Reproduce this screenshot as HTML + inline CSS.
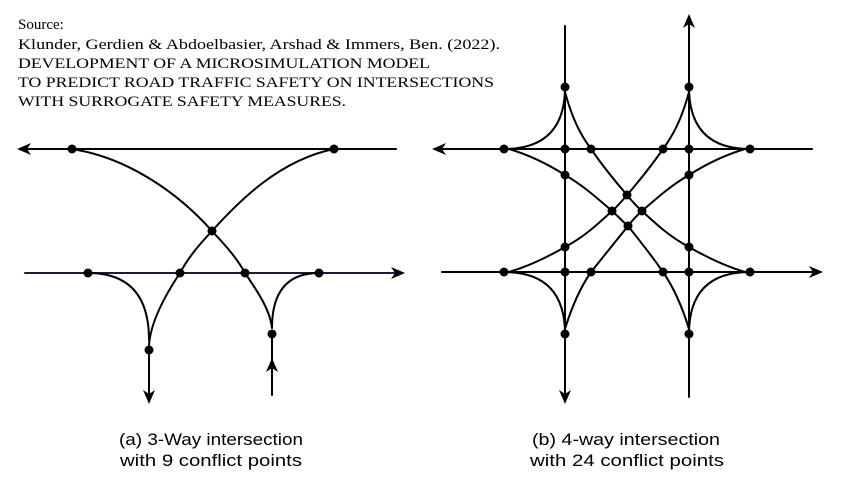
<!DOCTYPE html>
<html><head><meta charset="utf-8"><style>
html,body{margin:0;padding:0;background:#fff;}
svg{display:block;}
</style></head><body>
<svg width="850" height="486" viewBox="0 0 850 486" xmlns="http://www.w3.org/2000/svg">
<g font-family="'Liberation Serif', serif" font-size="15" fill="#000">
<text x="18" y="29">Source:</text>
<text x="18" y="49" textLength="482" lengthAdjust="spacingAndGlyphs">Klunder, Gerdien &amp; Abdoelbasier, Arshad &amp; Immers, Ben. (2022).</text>
<text x="18" y="68" textLength="412" lengthAdjust="spacingAndGlyphs">DEVELOPMENT OF A MICROSIMULATION MODEL</text>
<text x="18" y="87" textLength="476" lengthAdjust="spacingAndGlyphs">TO PREDICT ROAD TRAFFIC SAFETY ON INTERSECTIONS</text>
<text x="18" y="106" textLength="328" lengthAdjust="spacingAndGlyphs">WITH SURROGATE SAFETY MEASURES.</text>
</g>
<g font-family="'Liberation Sans', sans-serif" font-size="17" fill="#000" text-anchor="middle">
<text x="211" y="445" textLength="184" lengthAdjust="spacingAndGlyphs">(a) 3-Way intersection</text>
<text x="211" y="466" textLength="182" lengthAdjust="spacingAndGlyphs">with 9 conflict points</text>
<text x="626" y="445" textLength="188" lengthAdjust="spacingAndGlyphs">(b) 4-way intersection</text>
<text x="627" y="466" textLength="194" lengthAdjust="spacingAndGlyphs">with 24 conflict points</text>
</g>
<g fill="none" stroke="#000" stroke-width="2" stroke-linejoin="round" stroke-linecap="round">
<!-- left diagram -->
<line x1="22" y1="149" x2="396" y2="149"/>
<line x1="25" y1="273" x2="400" y2="273" stroke="#1a1f3a"/>
<line x1="149" y1="350" x2="149" y2="398"/>
<line x1="272" y1="334" x2="272" y2="395"/>
<path d="M72,149 C130,158 180,195 212,231 C228,248 238,260 245,273 C258,292 270,310 272,328"/>
<path d="M334,149 C280,160 240,200 212,231 C198,246 188,258 180,273 C162,300 150,325 149,346"/>
<path d="M88,273 Q149,273 149,340"/>
<path d="M319,273 Q272,273 272,328"/>
<!-- right diagram -->
<line x1="437" y1="149" x2="812" y2="149"/>
<line x1="442" y1="272" x2="818" y2="272"/>
<line x1="565" y1="26" x2="565" y2="398"/>
<line x1="689" y1="20" x2="689" y2="397"/>
<path d="M565,87 Q565,149 504,149"/>
<path d="M689,87 Q689,149 750,149"/>
<path d="M565,334 Q565,272 504,272"/>
<path d="M689,334 Q689,272 750,272"/>
<path d="M565,92 C572,118 580,134 591,149 C602,165 614,180 627,195 C632,201 636,206 642,211 C656,224 670,237 689,247 C708,258 728,267 745,272"/>
<path d="M689,92 C682,118 674,134 663,149 C652,165 640,180 627,195 C622,201 618,206 612,211 C598,224 584,237 565,247 C546,258 526,267 509,272"/>
<path d="M509,149 C526,154 546,163 565,175 C584,186 598,199 612,211 C618,216 622,221 628,226 C640,241 652,256 663,272 C674,288 682,306 689,329"/>
<path d="M745,149 C728,154 708,163 689,175 C670,186 656,199 642,211 C636,216 632,221 628,226 C616,241 604,256 591,272 C580,288 572,306 565,329"/>
</g>
<g fill="#000">
<!-- arrowheads -->
<path d="M17,149 L31,143 L27,149 L31,155 Z"/>
<path d="M405,273 L391,267 L395,273 L391,279 Z"/>
<path d="M149,404 L143,390 L149,394 L155,390 Z"/>
<path d="M272,358 L266,372 L272,368 L278,372 Z"/>
<path d="M432,149 L446,143 L442,149 L446,155 Z"/>
<path d="M823,272 L809,266 L813,272 L809,278 Z"/>
<path d="M565,404 L559,390 L565,394 L571,390 Z"/>
<path d="M689,14 L683,28 L689,24 L695,28 Z"/>
<!-- left dots -->
<circle cx="72" cy="149" r="4.5"/><circle cx="334" cy="149" r="4.5"/>
<circle cx="212" cy="231" r="4.5"/>
<circle cx="88" cy="273" r="4.5"/><circle cx="180" cy="273" r="4.5"/>
<circle cx="245" cy="273" r="4.5"/><circle cx="319" cy="273" r="4.5"/>
<circle cx="149" cy="350" r="4.5"/><circle cx="272" cy="334" r="4.5"/>
<!-- right dots -->
<circle cx="565" cy="87" r="4.5"/><circle cx="689" cy="87" r="4.5"/>
<circle cx="565" cy="334" r="4.5"/><circle cx="689" cy="334" r="4.5"/>
<circle cx="504" cy="149" r="4.5"/><circle cx="504" cy="272" r="4.5"/>
<circle cx="750" cy="149" r="4.5"/><circle cx="750" cy="272" r="4.5"/>
<circle cx="565" cy="149" r="4.5"/><circle cx="591" cy="149" r="4.5"/>
<circle cx="663" cy="149" r="4.5"/><circle cx="689" cy="149" r="4.5"/>
<circle cx="565" cy="272" r="4.5"/><circle cx="591" cy="272" r="4.5"/>
<circle cx="663" cy="272" r="4.5"/><circle cx="689" cy="272" r="4.5"/>
<circle cx="565" cy="175" r="4.5"/><circle cx="689" cy="175" r="4.5"/>
<circle cx="565" cy="247" r="4.5"/><circle cx="689" cy="247" r="4.5"/>
<circle cx="627" cy="195" r="4.5"/><circle cx="612" cy="211" r="4.5"/>
<circle cx="642" cy="211" r="4.5"/><circle cx="628" cy="226" r="4.5"/>
</g>
</svg>
</body></html>
